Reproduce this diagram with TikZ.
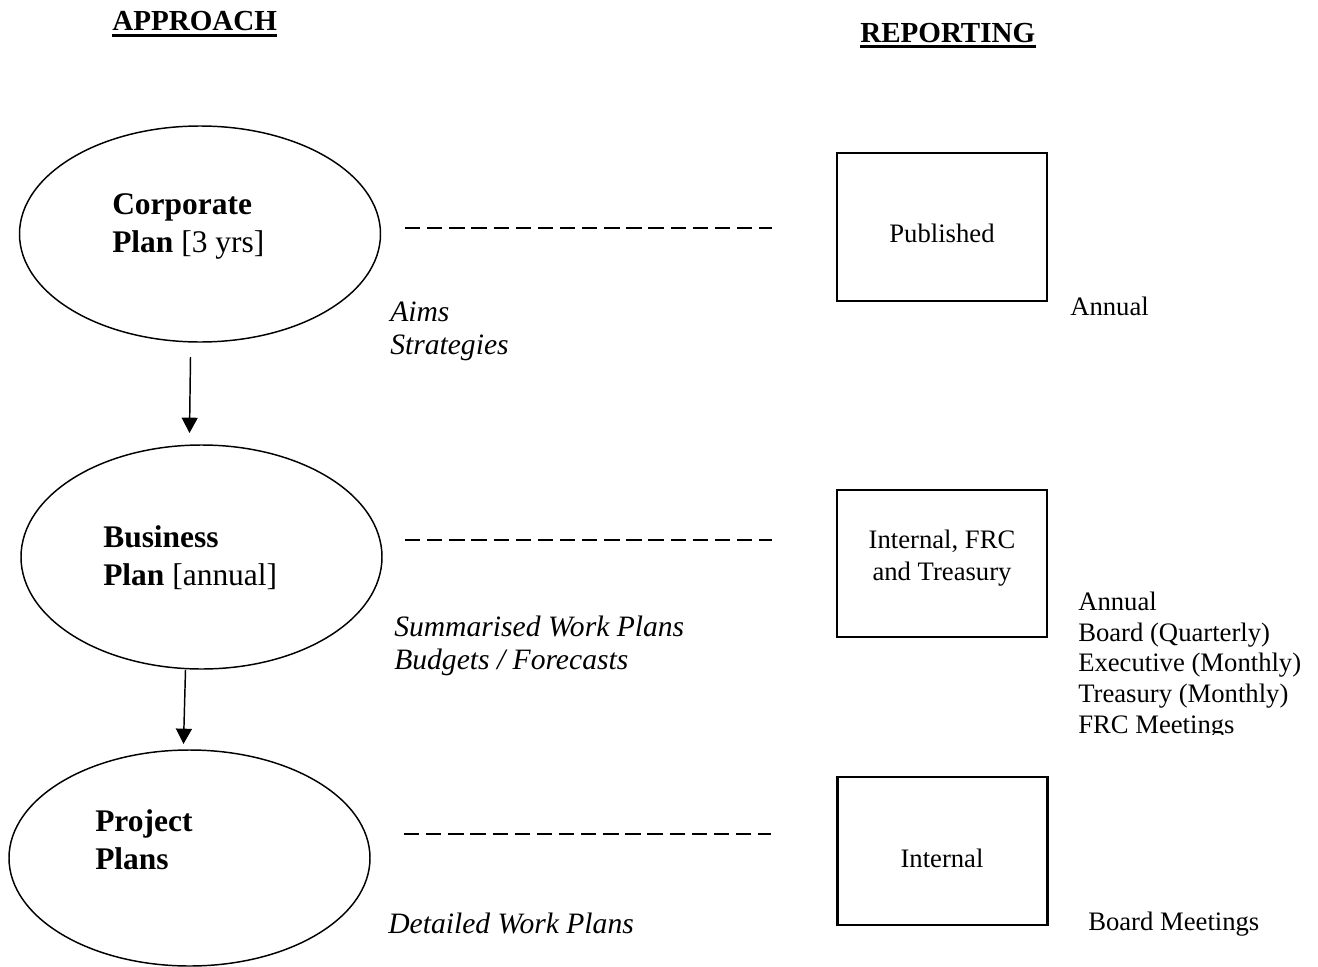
\documentclass[tikz,border=0pt]{standalone}
\usepackage{fontspec}
\setmainfont{Liberation Serif}
\usetikzlibrary{shapes.geometric,arrows.meta}
\begin{document}
\begin{tikzpicture}[x=0.75pt,y=-0.75pt,
  plan/.style={draw,ellipse,line width=1.1pt,inner sep=0pt,minimum width=270.75pt},
  rbox/.style={draw,rectangle,line width=1.6pt,inner sep=0pt,minimum width=157.5pt},
  ptext/.style={anchor=base west,inner sep=0pt,align=left,font=\fontsize{23.6}{28.5}\selectfont},
  btext/.style={anchor=base,inner sep=0pt,align=center,font=\fontsize{20}{24}\selectfont},
  rtext/.style={anchor=base west,inner sep=0pt,align=left,font=\fontsize{20}{23}\selectfont},
  itext/.style={anchor=base west,inner sep=0pt,align=left,font=\fontsize{22.2}{24.5}\selectfont\itshape},
  head/.style={anchor=base west,inner sep=0pt,font=\fontsize{21.8}{26}\selectfont\bfseries},
  uline/.style={line width=1.9pt},
  link/.style={line width=1.4pt,dash pattern=on 11.5pt off 5.1pt},
  flow/.style={line width=1.1pt,-{Triangle[length=11.5pt,width=12pt]}}
]
\useasboundingbox (0,0) rectangle (1318,967);

% headers
\node[head] (hA) at (112,31) {APPROACH};
\node[head] (hR) at (860,42) {REPORTING};
\draw[uline] ([yshift=-3.2pt]hA.base west) -- ([yshift=-3.2pt]hA.base east);
\draw[uline] ([yshift=-3.2pt]hR.base west) -- ([yshift=-3.2pt]hR.base east);

% ellipses
\node[plan,minimum height=162pt] (e1) at (200,234) {};
\node[plan,minimum height=168pt] (e2) at (201.5,557) {};
\node[plan,minimum height=162pt] (e3) at (189.5,858) {};
\node[ptext] (t1) at (112,252) {\textbf{Corporate}\\\textbf{Plan} [3 yrs]};
\node[ptext] (t2) at (103,585) {\textbf{Business}\\\textbf{Plan} [annual]};
\node[ptext] (t3) at (95,869) {\textbf{Project}\\\textbf{Plans}};

% arrows
\coordinate (a1s) at (190.5,357);
\coordinate (a1e) at (189.5,433);
\coordinate (a2s) at (185.5,670);
\coordinate (a2e) at (183.5,744);
\draw[flow] (a1s) -- (a1e);
\draw[flow] (a2s) -- (a2e);

% dashed links
\coordinate (d1s) at (405,228);
\coordinate (d1e) at (772,228);
\coordinate (d2s) at (405,540);
\coordinate (d2e) at (772,540);
\coordinate (d3s) at (404,834);
\coordinate (d3e) at (771,834);
\draw[link] (d1s) -- (d1e);
\draw[link] (d2s) -- (d2e);
\draw[link] (d3s) -- (d3e);

% italic notes
\node[itext] (n1) at (390,354) {Aims\\Strategies};
\node[itext] (n2) at (394,669) {Summarised Work Plans\\Budgets / Forecasts};
\node[itext] (n3) at (388,933) {Detailed Work Plans};

% boxes
\node[rbox,minimum height=111pt] (b1) at (942,227) {};
\node[rbox,minimum height=110.25pt] (b2) at (942,563.5) {};
\node[rbox,minimum height=111pt] (b3) at (942.5,851) {};
\node[btext] (bt1) at (942,242) {Published};
\node[btext] (bt2) at (942,580) {Internal, FRC\\and Treasury};
\node[btext] (bt3) at (942,867) {Internal};

% frequency notes
\node[rtext] (f1) at (1070,315) {Annual};
\begin{scope}
\clip (1060,585) rectangle (1318,734.5);
\node[rtext] (f2) at (1078,733) {Annual\\Board (Quarterly)\\Executive (Monthly)\\Treasury (Monthly)\\FRC Meetings};
\end{scope}
\node[rtext] (f3) at (1088,930) {Board Meetings};
\end{tikzpicture}
\end{document}
